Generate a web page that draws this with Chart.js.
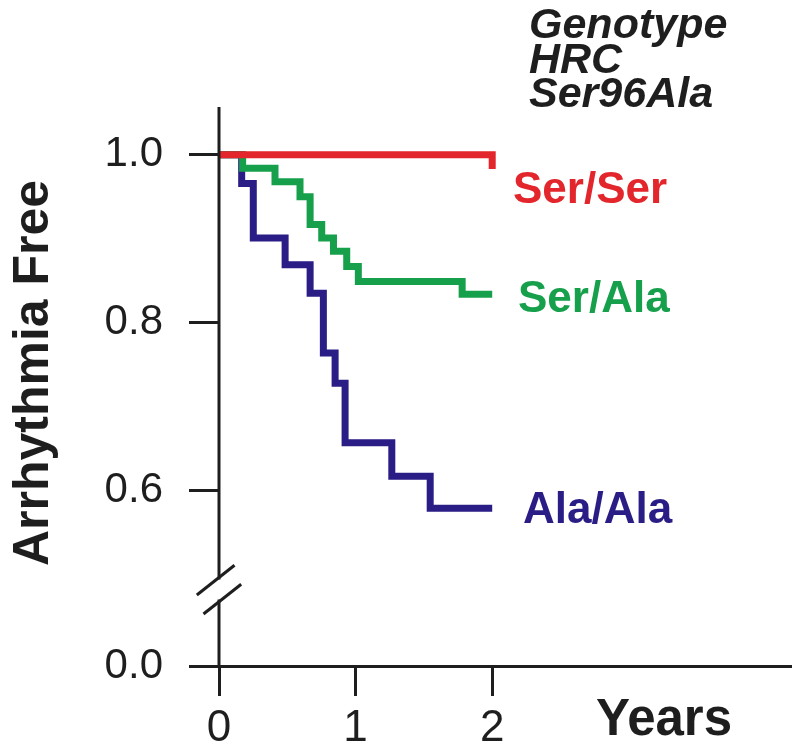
<!DOCTYPE html>
<html><head><meta charset="utf-8">
<script src="https://cdn.jsdelivr.net/npm/chart.js@4.4.1/dist/chart.umd.min.js"></script>
<style>html,body{margin:0;padding:0;background:#fff;}canvas{display:block;}</style>
</head><body>
<canvas id="c" width="800" height="755"></canvas>
<script>
// ---- data (Kaplan-Meier steps: time in years, survival after the drop) ----
const serSerTime  = [0, 2.0, 2.0];
const serSerValue = [1.0, 1.0, 0.983];
const serAlaTime  = [0, 0.173, 0.41, 0.593, 0.667, 0.752, 0.838, 0.935, 1.02, 1.78, 2.0];
const serAlaValue = [1.0, 0.984, 0.968, 0.950, 0.917, 0.901, 0.885, 0.867, 0.849, 0.834, 0.834];
const alaAlaTime  = [0, 0.166, 0.251, 0.484, 0.667, 0.764, 0.85, 0.923, 1.265, 1.546, 2.0];
const alaAlaValue = [1.0, 0.966, 0.901, 0.869, 0.835, 0.764, 0.728, 0.657, 0.617, 0.579, 0.579];
const seriesNames = ['Ser/Ser', 'Ser/Ala', 'Ala/Ala'];
const seriesColors = ['#e2262b', '#17a04b', '#2a1d85'];
const xTickValues = [0, 1, 2];
const yTickValues = [0.0, 0.6, 0.8, 1.0];
const yTickLabels = ['0.0', '0.6', '0.8', '1.0'];
const titleLines = ['Genotype', 'HRC', 'Ser96Ala'];
const yTitle = 'Arrhythmia Free';
const xTitle = 'Years';

// broken y axis: values below the break are drawn shifted up onto the axis floor
const Y_FLOOR = 0.391;   // axis position where 0.0 is drawn
const Y_BREAK = 0.482;   // axis position of the break marks
const Y_MAX = 1.057;
const X_MAX = 4.18;
function axisPos(v) { return v < 0.5 ? Y_FLOOR + v : v; }

function pts(t, v) { return t.map((tt, i) => ({ x: tt, y: axisPos(v[i]) })); }

const FONT = '"Liberation Sans", Arial, Helvetica, sans-serif';
const INK = '#1e1e1e';

const deco = {
  id: 'deco',
  afterDraw(chart) {
    const { ctx, chartArea: a, scales: { x, y } } = chart;
    ctx.save();
    // y axis line with a gap at the break
    const ax = x.getPixelForValue(0);
    const by = y.getPixelForValue(Y_BREAK);
    ctx.strokeStyle = INK; ctx.lineWidth = 3; ctx.lineCap = 'butt';
    ctx.beginPath();
    ctx.moveTo(ax, a.top); ctx.lineTo(ax, by - 10);
    ctx.moveTo(ax, by + 10); ctx.lineTo(ax, a.bottom);
    ctx.stroke();
    // break slashes
    const dx = 0.785, dy = -0.62, h = 24;
    [-9.5, 9.5].forEach(off => {
      const cx = ax + off * 0.35, cy = by + off;
      ctx.beginPath();
      ctx.moveTo(cx - dx * h, cy - dy * h);
      ctx.lineTo(cx + dx * h, cy + dy * h);
      ctx.stroke();
    });
    // y title
    ctx.fillStyle = INK;
    ctx.font = 'bold 50px ' + FONT;
    ctx.textAlign = 'center'; ctx.textBaseline = 'alphabetic';
    ctx.save();
    ctx.translate(48, 373); ctx.rotate(-Math.PI / 2);
    ctx.fillText(yTitle, 0, 0);
    ctx.restore();
    // x title
    ctx.font = 'bold 51px ' + FONT;
    ctx.fillText(xTitle, 664, 735);
    // series labels
    ctx.font = 'bold 44px ' + FONT;
    ctx.textAlign = 'left';
    const lab = [[513, 203], [518, 312], [523, 523]];
    seriesNames.forEach((n, i) => {
      ctx.fillStyle = seriesColors[i];
      ctx.fillText(n, lab[i][0], lab[i][1]);
    });
    // title block
    ctx.fillStyle = INK;
    ctx.font = 'italic bold 43px ' + FONT;
    const tb = [38, 73, 107];
    titleLines.forEach((t, i) => ctx.fillText(t, 529, tb[i]));
    ctx.restore();
  }
};

const times = [serSerTime, serAlaTime, alaAlaTime];
const vals = [serSerValue, serAlaValue, alaAlaValue];

new Chart(document.getElementById('c'), {
  type: 'line',
  data: {
    datasets: seriesNames.map((n, i) => ({
      label: n,
      data: pts(times[i], vals[i]),
      borderColor: seriesColors[i],
      borderWidth: 7,
      stepped: 'before',
      pointRadius: 0,
      fill: false,
      borderJoinStyle: 'miter',
      borderCapStyle: 'butt'
    }))
  },
  options: {
    responsive: false,
    animation: false,
    devicePixelRatio: 1,
    layout: { padding: { top: 107, right: 10, left: 0, bottom: 0 } },
    plugins: { legend: { display: false }, tooltip: { enabled: false } },
    scales: {
      x: {
        type: 'linear', min: 0, max: X_MAX,
        afterFit(s) { s.height = 89; },
        afterBuildTicks(s) { s.ticks = xTickValues.map(v => ({ value: v })); },
        border: { display: true, color: INK, width: 3 },
        grid: { drawOnChartArea: false, drawTicks: true, tickLength: 30, tickWidth: 3, tickColor: INK, color: INK, lineWidth: 3 },
        ticks: { color: INK, font: { family: FONT, size: 44 }, padding: 6, callback: v => String(v) }
      },
      y: {
        type: 'linear', min: Y_FLOOR, max: Y_MAX,
        afterFit(s) { s.width = 219; },
        afterBuildTicks(s) { s.ticks = yTickValues.map(v => ({ value: axisPos(v) })); },
        border: { display: false },
        grid: { drawOnChartArea: false, drawTicks: true, tickLength: 30, tickWidth: 3, tickColor: INK, color: INK, lineWidth: 3 },
        ticks: {
          color: INK, font: { family: FONT, size: 42 }, padding: 26,
          callback: (v, i) => yTickLabels[i]
        }
      }
    }
  },
  plugins: [deco]
});
</script>
</body></html>
